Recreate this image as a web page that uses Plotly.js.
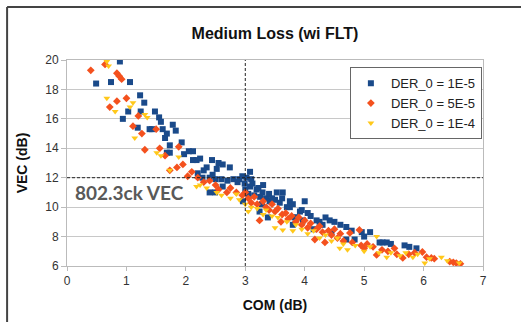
<!DOCTYPE html>
<html>
<head>
<meta charset="utf-8">
<script src="https://cdn.plot.ly/plotly-3.0.1.min.js"></script>
<style>html,body{margin:0;padding:0;background:#fff;}#chart{width:521px;height:322px;}</style>
</head>
<body>
<div id="chart"></div>
<script>
// DER_0 = 1E-5 (blue squares)
const blueX = [0.89,0.49,0.74,1.06,1.23,1.30,1.24,1.48,1.03,0.94,1.55,1.58,1.19,1.39,1.43,1.61,1.78,1.83,1.68,1.65,1.73,1.93,1.68,1.73,1.97,2.05,2.12,2.12,2.18,2.24,2.44,2.55,2.62,2.74,2.35,2.30,2.45,2.52,3.08,2.20,2.28,2.40,2.50,2.60,2.70,2.80,2.90,2.95,3.02,3.10,2.40,2.49,2.62,2.87,2.99,3.08,3.19,3.29,3.53,3.63,3.00,3.05,3.12,3.15,3.22,3.25,3.30,3.35,3.40,3.41,3.45,3.50,3.58,3.62,3.70,3.75,3.75,3.80,3.83,3.87,3.92,3.97,4.00,3.80,3.38,3.24,3.28,3.95,4.05,4.10,4.20,4.25,4.42,4.50,4.45,4.30,4.60,4.70,4.79,4.70,4.84,4.96,5.10,5.00,5.26,5.31,5.38,5.45,5.68,5.76,5.88,4.15,4.35,2.96];
const blueY = [19.9,18.4,18.5,18.5,17.6,17.1,16.5,16.5,16.5,16.0,16.1,15.8,15.4,15.3,15.3,15.3,15.6,15.2,15.0,14.7,14.2,14.4,13.7,13.7,13.6,13.8,13.8,13.2,13.2,13.3,13.2,13.0,12.9,12.7,12.7,12.5,12.2,12.6,12.4,12.3,12.0,12.0,11.9,11.9,11.8,11.9,11.9,12.1,12.0,11.9,11.0,11.0,11.4,11.7,11.6,11.4,11.2,11.0,11.0,11.0,11.2,10.9,11.6,10.8,11.3,10.7,11.5,10.6,10.9,10.4,10.6,10.5,10.3,10.6,10.0,10.0,10.4,10.2,9.3,9.3,9.7,9.1,10.4,8.8,9.3,9.7,10.2,9.8,9.6,9.4,9.1,9.0,9.1,9.0,8.3,8.8,8.8,8.65,8.4,7.8,7.8,8.3,8.3,8.0,7.6,7.6,7.6,7.5,7.4,7.3,7.2,8.5,9.3,10.4];

// DER_0 = 5E-5 (red diamonds)
const redX = [0.40,0.64,0.84,0.92,0.88,0.84,1.00,0.72,1.11,1.26,1.31,1.56,1.50,1.88,1.85,1.73,2.03,1.20,1.65,1.95,2.10,2.20,2.30,2.40,2.50,2.55,2.69,2.75,2.85,2.95,3.00,3.05,3.10,3.15,3.20,3.24,3.30,3.35,3.40,3.45,3.50,3.55,3.60,3.62,3.68,3.72,3.78,3.85,3.90,3.95,4.00,4.05,4.10,4.17,4.20,4.25,4.30,4.34,4.40,4.45,4.50,4.55,4.60,4.65,4.76,4.80,4.92,4.95,5.00,5.05,5.15,5.21,5.30,5.40,5.51,5.55,5.65,5.75,5.85,5.98,6.05,6.13,6.18,6.44,6.50,6.55,6.62];
const redY = [19.3,19.7,19.1,18.7,18.9,17.2,17.4,16.8,15.5,15.0,13.9,14.0,15.3,14.1,12.7,12.5,12.1,16.2,13.5,12.9,12.4,12.0,11.7,11.8,11.5,11.2,11.0,11.3,11.0,10.8,11.0,10.6,10.3,10.7,10.2,9.1,10.4,10.0,9.8,10.2,9.7,9.9,9.0,9.5,9.6,9.2,9.4,9.0,9.3,8.8,9.1,8.6,8.9,7.8,8.5,8.7,8.3,7.6,8.4,8.1,8.5,7.9,8.2,7.7,8.25,7.6,8.45,7.4,7.2,7.5,7.3,6.75,7.1,7.0,7.2,6.8,6.55,6.8,6.9,6.95,6.6,6.55,6.5,6.3,6.25,6.2,6.15];

// DER_0 = 1E-4 (yellow triangles)
const yelX = [0.67,0.70,0.67,1.11,0.81,1.06,1.31,1.35,1.14,1.51,1.58,1.88,1.73,2.18,2.24,2.35,2.52,2.60,2.75,2.90,3.00,3.10,3.20,3.30,3.35,3.45,3.55,3.63,3.70,3.80,3.85,3.95,4.05,4.15,4.25,4.35,4.45,4.55,4.59,4.65,4.72,4.85,5.00,5.10,5.21,5.25,5.38,5.45,5.60,5.70,5.82,5.90,6.02,6.10,6.30,6.40,6.60,2.85,3.05,3.50];
const yelY = [19.9,19.6,17.4,17.1,16.5,16.8,16.3,16.1,14.7,13.7,13.5,13.4,12.5,11.4,11.5,11.3,11.0,10.8,10.6,10.5,10.2,10.0,9.9,9.5,9.8,9.4,9.3,8.45,9.0,8.4,8.8,8.5,8.2,8.4,7.9,8.1,7.7,7.9,7.2,7.5,7.1,7.4,7.0,7.3,8.0,6.9,6.6,6.9,6.7,6.9,6.6,6.8,6.2,6.5,6.6,6.35,6.2,10.9,9.7,8.6];

const seriesNames = ["DER_0 = 1E-5", "DER_0 = 5E-5", "DER_0 = 1E-4"];
const xTicks = [0,1,2,3,4,5,6,7];
const yTicks = [6,8,10,12,14,16,18,20];
const refCOM = 3;
const refVEC = 12;
const refLabel = "802.3ck VEC";

const traces = [
  {x: blueX, y: blueY, name: seriesNames[0], type: 'scatter', mode: 'markers',
   marker: {symbol: 'square', size: 6, color: '#1a4a8a'}},
  {x: redX, y: redY, name: seriesNames[1], type: 'scatter', mode: 'markers',
   marker: {symbol: 'diamond', size: 6, color: '#f4511e'}},
  {x: yelX, y: yelY, name: seriesNames[2], type: 'scatter', mode: 'markers',
   marker: {symbol: 'triangle-down', size: 6, color: '#ffc81a'}}
];

const layout = {
  width: 521, height: 322,
  margin: {l: 67, r: 38, t: 60, b: 56},
  paper_bgcolor: '#ffffff', plot_bgcolor: '#ffffff',
  font: {family: 'Liberation Sans, Arial, sans-serif', size: 11, color: '#333'},
  title: {text: '<b>Medium Loss (wi FLT)</b>', x: 0.5, xref: 'paper', y: 0.895, yanchor: 'middle',
          font: {size: 16, color: '#111'}},
  xaxis: {range: [0, 7], tickvals: xTicks, ticks: 'outside', ticklen: 4, tickcolor: '#bbb',
          showgrid: false, zeroline: false, showline: true, linecolor: '#bbb', mirror: true,
          title: {text: '<b>COM (dB)</b>', font: {size: 14, color: '#111'}, standoff: 12},
          tickfont: {size: 12, color: '#333'}},
  yaxis: {range: [6, 20], tickvals: yTicks, ticks: 'outside', ticklen: 5, tickcolor: '#bbb',
          showgrid: true, gridcolor: '#c8c8c8', zeroline: false, showline: true, linecolor: '#bbb', mirror: true,
          title: {text: '<b>VEC (dB)</b>', font: {size: 14, color: '#111'}, standoff: 14},
          tickfont: {size: 12, color: '#333'}},
  showlegend: true,
  legend: {x: 0.68, y: 0.965, xanchor: 'left', yanchor: 'top', bgcolor: '#ffffff',
           bordercolor: '#666', borderwidth: 1, font: {size: 13, color: '#222'},
           tracegroupgap: 0, itemwidth: 30},
  shapes: [
    {type: 'line', xref: 'x', yref: 'y', x0: refCOM, x1: refCOM, y0: 6, y1: 20,
     line: {color: '#222', width: 1, dash: '3px,2px'}},
    {type: 'line', xref: 'x', yref: 'y', x0: 0, x1: 7, y0: refVEC, y1: refVEC,
     line: {color: '#222', width: 1, dash: '3px,2px'}},
    {type: 'line', xref: 'paper', yref: 'paper', x0: -0.144, x1: -0.144, y0: -0.3, y1: 1.257,
     line: {color: '#444', width: 2}},
    {type: 'line', xref: 'paper', yref: 'paper', x0: -0.144, x1: 1.1, y0: 1.257, y1: 1.257,
     line: {color: '#444', width: 2}}
  ],
  annotations: [
    {x: 0.1, y: 11.0, xref: 'x', yref: 'y', xanchor: 'left', yanchor: 'middle', showarrow: false,
     text: '<b>' + refLabel + '</b>', font: {family: 'Lato, sans-serif', size: 19, color: '#595959'}}
  ]
};

Plotly.newPlot('chart', traces, layout, {displayModeBar: false, staticPlot: true});
</script>
</body>
</html>
